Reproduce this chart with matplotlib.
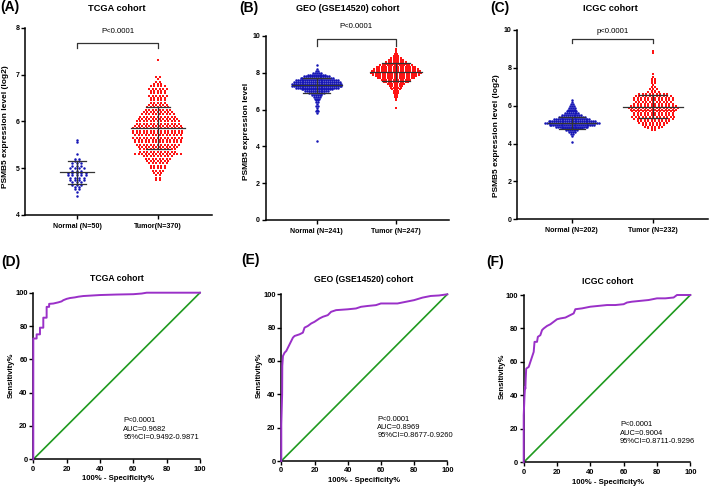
import numpy as np
import matplotlib
matplotlib.use('Agg')
import matplotlib.pyplot as plt

plt.rcParams['font.family'] = ['Liberation Sans', 'DejaVu Sans']
plt.rcParams['font.weight'] = 'bold'

W, H = 709, 487

# ---------------- scatter data (bin start, bin width, counts per bin) ----------------
tcga_labels = ['Normal (N=50)', 'Tumor(N=370)']
tcga_normal_start, tcga_normal_bw = 4.40, 0.05
tcga_normal_counts = [1, 0, 1, 2, 2, 3, 3, 4, 4, 5, 5, 3, 4, 3, 3, 2, 2, 0, 1, 0, 0, 0, 0, 1, 1]
tcga_tumor_start, tcga_tumor_bw = 4.75, 0.05
tcga_tumor_counts = [2, 2, 2, 3, 4, 5, 5, 6, 7, 8,
                     9, 14, 11, 11, 12, 13, 14, 14, 15, 14,
                     15, 15, 15, 14, 13, 13, 12, 11, 10, 9,
                     8, 7, 6, 5, 5, 5, 6, 5, 5, 6,
                     5, 3, 2, 1, 2, 0, 0, 0, 0, 0, 0, 1]
tcga_mean = [4.91, 5.85]
tcga_low = [4.66, 5.40]
tcga_high = [5.16, 6.30]

geo_labels = ['Normal (N=241)', 'Tumor (N=247)']
geo_normal_start, geo_normal_bw = 4.3, 0.1
geo_normal_counts = [1] + [0] * 14 + [1, 2, 1, 1, 2, 1, 2, 2, 3, 4, 6, 9, 13, 17, 23, 27, 27, 25,
                                      23, 18, 14, 10, 5, 2, 1, 0, 1]
geo_tumor_start, geo_tumor_bw = 6.1, 0.1
geo_tumor_counts = [1, 0, 0, 0, 1, 1, 2, 2, 3, 3, 4, 5, 6, 8, 11, 13, 16, 18, 20, 22,
                    21, 19, 17, 14, 11, 9, 7, 5, 3, 2, 1, 1, 1]
geo_mean = [7.32, 8.04]
geo_low = [6.90, 7.57]
geo_high = [7.74, 8.52]

icgc_labels = ['Normal (N=202)', 'Tumor (N=232)']
icgc_normal_start, icgc_normal_bw = 4.1, 0.1
icgc_normal_counts = [1, 0, 0, 1, 2, 4, 7, 12, 18, 25, 30, 26, 20, 15, 11, 8, 6, 5, 4, 3, 2, 1, 1]
icgc_tumor_start, icgc_tumor_bw = 4.7, 0.1
icgc_tumor_counts = [2, 4, 6, 7, 9, 10, 12, 13, 12, 12, 13, 14, 15, 14, 12, 11, 12, 12, 11, 9,
                     4, 2, 3, 2, 1, 2, 2, 2, 1, 0, 1] + [0] * 10 + [1, 1]
icgc_mean = [5.10, 5.95]
icgc_low = [4.78, 5.33]
icgc_high = [5.42, 6.57]

# ---------------- ROC data (1-specificity %, sensitivity %) ----------------
tcga_fpr = [0, 0, 2, 2, 4, 4, 6, 6, 8, 8, 9.5, 9.5, 12, 15, 17, 18, 20, 22, 25, 27, 30, 35, 40, 50, 60, 65, 68, 100]
tcga_tpr = [0, 72.5, 72.5, 75, 75, 79, 79, 85, 85, 91.5, 91.5, 93.3, 93.5, 94.2, 94.8, 95.5, 96.3, 96.8, 97.2, 97.6,
            98, 98.3, 98.6, 98.9, 99.1, 99.5, 100, 100]
geo_fpr = [0, 0, 0.5, 0.6, 1, 2, 3, 4, 5, 6, 7, 8, 11, 13, 14, 16, 18, 20, 23, 25, 28, 30, 33, 40, 45, 48, 52,
           57, 60, 70, 75, 80, 85, 90, 95, 100]
geo_tpr = [0, 22, 40, 57, 63, 65, 66, 68, 70, 72, 74, 75, 76, 77, 80, 81, 82.5, 83.5, 85.5, 86.5, 87.5, 89.5, 90.5,
           91, 91.5, 92.5, 93, 93.5, 94.5, 94.5, 95.5, 96.5, 98, 99, 99.3, 100]
icgc_fpr = [0, 0, 0.3, 0.5, 0.8, 1, 1.2, 1.5, 3, 4, 5, 6, 6.5, 8, 8.5, 10, 11, 12, 14, 16, 18, 20, 22, 25, 28,
            30, 31, 35, 40, 45, 50, 55, 60, 62, 65, 70, 75, 80, 85, 90, 92, 100]
icgc_tpr = [0, 28, 35, 40, 45, 44, 50, 56, 57, 60, 63, 66, 72, 72, 75, 76, 79, 80, 81.5, 82.5, 84, 85.5, 86, 86.5,
            88, 89, 91.5, 92, 93, 93.5, 94, 94, 94.5, 95.5, 96, 96.5, 97, 98, 98, 98.5, 100, 100]
roc_titles = ['TCGA cohort', 'GEO (GSE14520) cohort', 'ICGC cohort']
roc_texts = [['P<0.0001', 'AUC=0.9682', '95%CI=0.9492-0.9871'],
             ['P<0.0001', 'AUC=0.8969', '95%CI=0.8677-0.9260'],
             ['P<0.0001', 'AUC=0.9004', '95%CI=0.8711-0.9296']]

BLUE = '#1515b5'
RED = '#ff1414'
PURPLE = '#9a30c8'
GREEN = '#1f9a1f'
GREY = '#333333'

fig = plt.figure(figsize=(W / 100, H / 100), dpi=100)


def rect(x0, y0, x1, y1):
    return [x0 / W, 1 - y1 / H, (x1 - x0) / W, (y1 - y0) / H]


def ftext(x, y, s, **kw):
    fig.text(x / W, 1 - y / H, s, **kw)


def style_axes(ax, ls=5):
    for sp in ['top', 'right']:
        ax.spines[sp].set_visible(False)
    for sp in ['left', 'bottom']:
        ax.spines[sp].set_linewidth(1.1)
    ax.tick_params(direction='out', length=2.6, width=1.0, labelsize=ls, pad=1.5)


def swarm(ax, xc, start, bw, counts, spacing_px, color, marker, ms):
    bb = ax.get_position()
    ppu = bb.width * W / (ax.get_xlim()[1] - ax.get_xlim()[0])
    xs, ys = [], []
    for k, n in enumerate(counts):
        if n == 0:
            continue
        y = start + k * bw
        offs = (np.arange(n) - (n - 1) / 2) * spacing_px / ppu
        xs.extend(xc + offs)
        ys.extend([y] * n)
    ax.scatter(xs, ys, s=ms, c=color, marker=marker, linewidths=0, zorder=2, clip_on=False)
    return ppu


def stats_lines(ax, xc, ppu, mean, lo, hi, wm, ws):
    ax.plot([xc - wm / ppu, xc + wm / ppu], [mean, mean], color=GREY, lw=0.9, zorder=3)
    ax.plot([xc - ws / ppu, xc + ws / ppu], [lo, lo], color=GREY, lw=0.9, zorder=3)
    ax.plot([xc - ws / ppu, xc + ws / ppu], [hi, hi], color=GREY, lw=0.9, zorder=3)
    ax.plot([xc, xc], [lo, hi], color=GREY, lw=0.9, zorder=3)


def scatter_panel(r, xlim, ylim, yticks, labels, groups, stats, widths, bracket, ptext):
    ax = fig.add_axes(rect(*r))
    ax.set_xlim(*xlim)
    ax.set_ylim(*ylim)
    style_axes(ax)
    ax.set_yticks(yticks)
    ax.set_xticks([0, 1])
    ax.set_xticklabels(labels, fontsize=5.1)
    ax.tick_params(axis='x', pad=3)
    for i, (g, st, wd) in enumerate(zip(groups, stats, widths)):
        start, bw, counts, sp, col, mk, ms = g
        ppu = swarm(ax, i, start, bw, counts, sp, col, mk, ms)
        stats_lines(ax, i, ppu, st[0], st[1], st[2], wd[0], wd[1])
    yb, yl, yt = bracket
    ax.plot([0, 0, 1, 1], [yl, yb, yb, yl], color=GREY, lw=0.9, clip_on=False)
    ax.text(0.5, yt, ptext, ha='center', va='center', fontsize=5.6, fontweight='normal', clip_on=False)
    return ax


# Panel A
scatter_panel((25, 27.7, 212, 215), (-0.642, 1.667), (4, 8), [4, 5, 6, 7, 8], tcga_labels,
              [(tcga_normal_start, tcga_normal_bw, tcga_normal_counts, 4.5, BLUE, 'o', 3.2),
               (tcga_tumor_start, tcga_tumor_bw, tcga_tumor_counts, 3.5, RED, 's', 2.6)],
              [(tcga_mean[0], tcga_low[0], tcga_high[0]), (tcga_mean[1], tcga_low[1], tcga_high[1])],
              [(17, 9), (27, 12)], (7.68, 7.57, 7.91), 'P<0.0001')
# Panel B
scatter_panel((265.7, 36, 449, 220), (-0.643, 1.668), (0, 10), [0, 2, 4, 6, 8, 10], geo_labels,
              [(geo_normal_start, geo_normal_bw, geo_normal_counts, 1.9, BLUE, 'o', 3.2),
               (geo_tumor_start, geo_tumor_bw, geo_tumor_counts, 2.4, RED, 's', 2.6)],
              [(geo_mean[0], geo_low[0], geo_high[0]), (geo_mean[1], geo_low[1], geo_high[1])],
              [(25, 13.5), (26, 14)], (9.84, 9.46, 10.5), 'P<0.0001')
# Panel C
scatter_panel((517.3, 30, 708, 219.3), (-0.667, 1.67), (0, 10), [0, 2, 4, 6, 8, 10], icgc_labels,
              [(icgc_normal_start, icgc_normal_bw, icgc_normal_counts, 1.85, BLUE, 'o', 3.2),
               (icgc_tumor_start, icgc_tumor_bw, icgc_tumor_counts, 3.5, RED, 's', 2.6)],
              [(icgc_mean[0], icgc_low[0], icgc_high[0]), (icgc_mean[1], icgc_low[1], icgc_high[1])],
              [(24, 13), (30, 14)], (9.52, 9.30, 9.91), 'p<0.0001')

# Titles, labels of top row
ftext(117, 8.5, 'TCGA cohort', ha='center', va='center', fontsize=6.7)
ftext(347.5, 8.5, 'GEO (GSE14520) cohort', ha='center', va='center', fontsize=6.5)
ftext(610.8, 8.5, 'ICGC cohort', ha='center', va='center', fontsize=6.7)
ftext(0, 7.5, '(A)', ha='left', va='center', fontsize=10)
ftext(239, 8, '(B)', ha='left', va='center', fontsize=10)
ftext(490, 8, '(C)', ha='left', va='center', fontsize=10)
ftext(6, 126.7, 'PSMB5 expression level (log2)', rotation=90, ha='center', va='center', fontsize=6)
ftext(246.7, 131, 'PSMB5 expression level', rotation=90, ha='center', va='center', fontsize=6)
ftext(496.7, 135.5, 'PSMB5 expression level (log2)', rotation=90, ha='center', va='center', fontsize=6)

# ROC panels
roc_rects = [(33.3, 292.7, 200, 459.3), (281.3, 294.3, 447.3, 461), (523.7, 295, 690.3, 462.3)]
roc_data = [(tcga_fpr, tcga_tpr), (geo_fpr, geo_tpr), (icgc_fpr, icgc_tpr)]
roc_title_pos = [(116.7, 278.3), (364, 280), (607.5, 281)]
roc_xlabel_pos = [(118, 478.3), (364.5, 480), (608, 482.3)]
roc_ylabel_pos = [(11.7, 375), (259, 375.5), (502, 376.5)]
roc_text_pos = [(123.3, 421), (377.3, 419.3), (620, 425)]
roc_letters = [('(D)', 1, 261.7), ('(E)', 241, 260), ('(F)', 486.5, 261.7)]

for i in range(3):
    ax = fig.add_axes(rect(*roc_rects[i]))
    ax.set_xlim(0, 100)
    ax.set_ylim(0, 100)
    style_axes(ax, ls=5.4)
    ax.tick_params(axis='x', pad=2)
    ax.set_xticks([0, 20, 40, 60, 80, 100])
    ax.set_yticks([0, 20, 40, 60, 80, 100])
    ax.plot([0, 100], [0, 100], color=GREEN, lw=1.2, clip_on=False, zorder=2)
    fx, ty = roc_data[i]
    ax.plot(fx, ty, color=PURPLE, lw=1.4, clip_on=False, zorder=3)
    ftext(*roc_title_pos[i], roc_titles[i], ha='center', va='center', fontsize=6.2)
    ftext(*roc_xlabel_pos[i], '100% - Specificity%', ha='center', va='center', fontsize=5.6)
    ftext(*roc_ylabel_pos[i], 'Sensitivity%', rotation=90, ha='center', va='center', fontsize=5.6)
    tx, ty0 = roc_text_pos[i]
    for j, s in enumerate(roc_texts[i]):
        ftext(tx, ty0 + j * 8.3, s, ha='left', va='center', fontsize=5.4, fontweight='normal')
    lt = roc_letters[i]
    ftext(lt[1], lt[2], lt[0], ha='left', va='center', fontsize=10)

fig.savefig('out.png', dpi=100)
